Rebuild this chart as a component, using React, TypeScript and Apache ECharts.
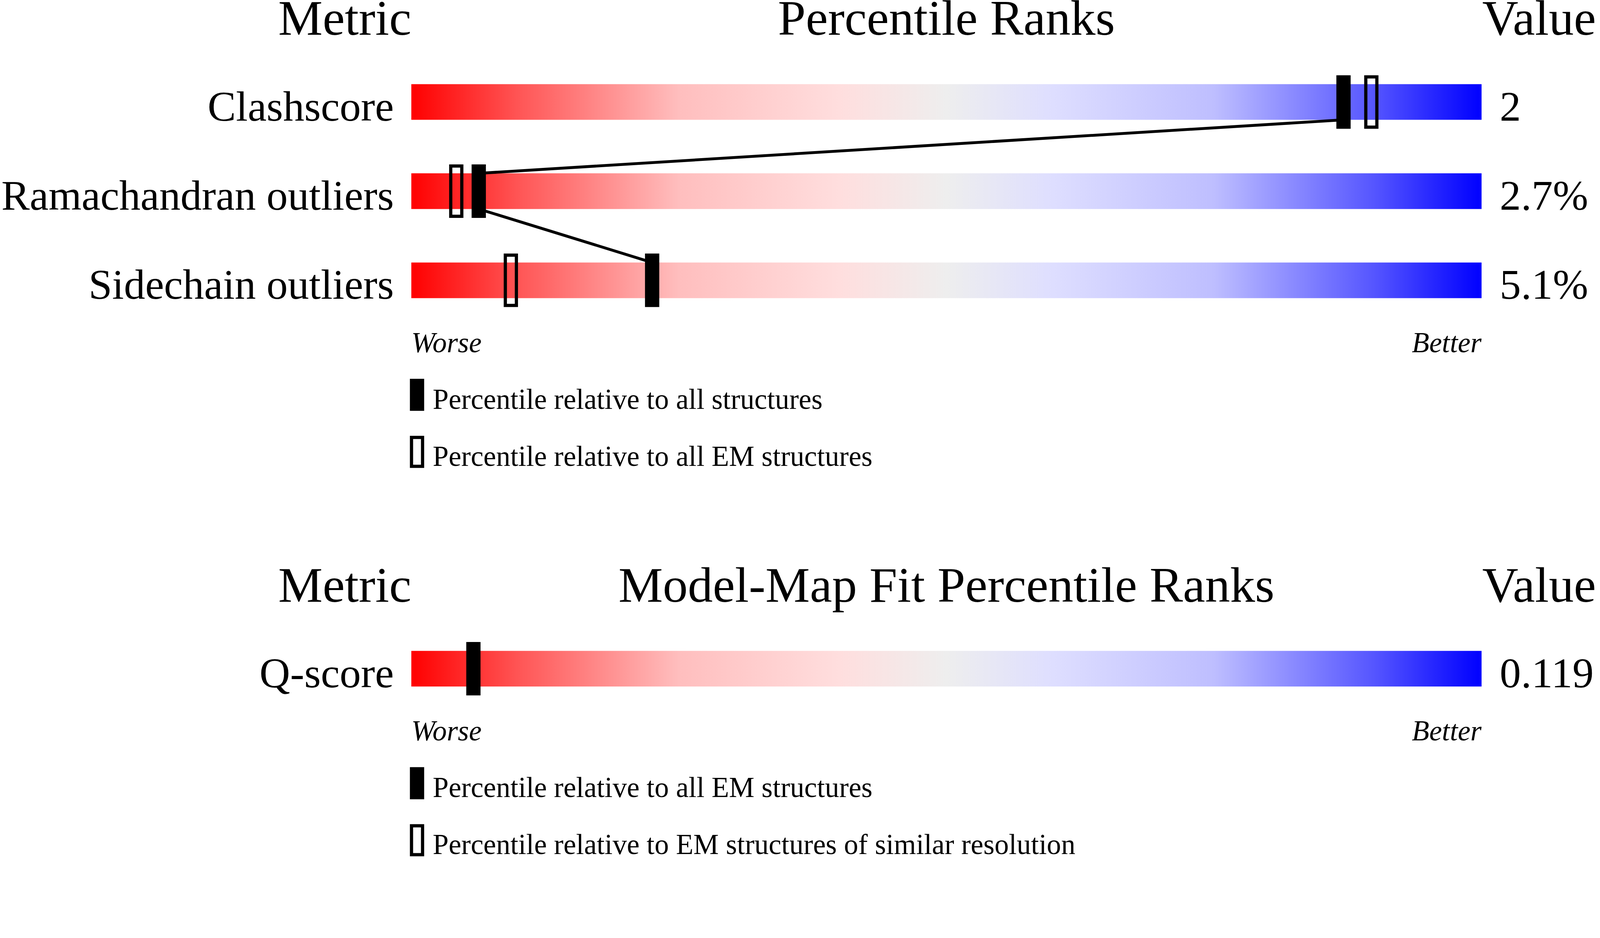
import { useEffect, useRef, useState } from 'react'
import * as echarts from 'echarts'

// 数据
const metrics = ['Clashscore', 'Ramachandran outliers', 'Sidechain outliers']
const metricValues = ['2', '2.7%', '5.1%']
const pctAll = [87.1, 6.3, 22.5] // percentile relative to all structures (filled)
const pctEM = [89.7, 4.2, 9.3] // percentile relative to all EM structures (outline)

const fitMetrics = ['Q-score']
const fitValues = ['0.119']
const fitPctEM = [5.8] // percentile relative to all EM structures (filled)

const headers1 = ['Metric', 'Percentile Ranks', 'Value']
const headers2 = ['Metric', 'Model-Map Fit Percentile Ranks', 'Value']
const scaleEnds = ['Worse', 'Better']
const legend1 = ['Percentile relative to all structures', 'Percentile relative to all EM structures']
const legend2 = ['Percentile relative to all EM structures', 'Percentile relative to EM structures of similar resolution']

// 布局 / 样式 (参考图像素)
const W = 4485
const H = 2402
const PLOT_L = 1153
const PLOT_W = 3000
const BAND = 250
const BAR_H = 100
const MARK_W = 40
const MARK_H = 150
const OUT_LW = 9
const LINK_LW = 8
const LABEL_SIZE = 119
const FONT = "'Liberation Serif', 'Times New Roman', serif"
const CENTRAL = 0.32 // 文字中心到基线的距离 (em)

const gradientStops: [number, string][] = [
  [0, '#ff0000'],
  [0.1, '#ff5555'],
  [0.25, '#ffbebe'],
  [0.4, '#ffdede'],
  [0.5, '#eeeeee'],
  [0.6, '#dedeff'],
  [0.75, '#bebeff'],
  [0.9, '#5555ff'],
  [1, '#0000ff'],
]

function buildOption(s: number) {
  const k = (v: number) => v * s

  const txt = (text: string, x: number, baseline: number, size: number, align: string, italic = false) => ({
    type: 'text',
    x: k(x),
    y: k(baseline - size * CENTRAL),
    silent: true,
    style: {
      text,
      fill: '#000',
      fontSize: k(size),
      fontFamily: FONT,
      fontStyle: italic ? 'italic' : 'normal',
      align,
      textAlign: align,
      verticalAlign: 'middle',
      textVerticalAlign: 'middle',
    },
  })

  const legendBlock = (labels: string[], worseBase: number) => {
    const top1 = worseBase + 76
    const top2 = worseBase + 236
    return [
      { type: 'rect', silent: true, shape: { x: k(PLOT_L - 4), y: k(top1), width: k(MARK_W), height: k(90) }, style: { fill: '#000' } },
      {
        type: 'rect',
        silent: true,
        shape: { x: k(PLOT_L - 4 + OUT_LW / 2), y: k(top2 + OUT_LW / 2), width: k(MARK_W - OUT_LW), height: k(90 - OUT_LW) },
        style: { fill: 'none', stroke: '#000', lineWidth: k(OUT_LW) },
      },
      txt(labels[0], PLOT_L + 60, worseBase + 159, 80, 'left'),
      txt(labels[1], PLOT_L + 60, worseBase + 319, 80, 'left'),
    ]
  }

  const panelTexts = (headers: string[], headBase: number, worseBase: number, legend: string[]) => [
    txt(headers[0], PLOT_L, headBase, 140, 'right'),
    txt(headers[1], PLOT_L + PLOT_W / 2, headBase, 140, 'center'),
    txt(headers[2], PLOT_L + PLOT_W + 2, headBase, 140, 'left'),
    txt(scaleEnds[0], PLOT_L, worseBase, 80, 'left', true),
    txt(scaleEnds[1], PLOT_L + PLOT_W, worseBase, 80, 'right', true),
    ...legendBlock(legend, worseBase),
  ]

  // 标签基线对齐到条形底边：verticalAlign 'top' 时文字中心 = y + lineHeight / 2
  const labelShift = BAR_H / 2 - LABEL_SIZE * CENTRAL

  const catAxis = (data: string[], gridIndex: number, position: 'left' | 'right', margin: number) => ({
    type: 'category',
    gridIndex,
    data,
    inverse: true,
    position,
    axisLine: { show: false },
    axisTick: { show: false },
    splitLine: { show: false },
    axisLabel: {
      interval: 0,
      margin: k(margin),
      color: '#000',
      fontSize: k(LABEL_SIZE),
      fontFamily: FONT,
      align: position === 'left' ? 'right' : 'left',
      verticalAlign: 'top',
      lineHeight: k(labelShift * 2),
    },
  })

  const gradient = new echarts.graphic.LinearGradient(
    0, 0, 1, 0,
    gradientStops.map(([offset, color]) => ({ offset, color })),
  )

  const links = pctAll.slice(0, -1).map((v, i) => [v, i, pctAll[i + 1], i + 1])

  // 百分位标记：实心 / 空心矩形
  const marker = (xi: number, yi: number, data: number[], outline: boolean) => ({
    type: 'custom',
    xAxisIndex: xi,
    yAxisIndex: yi,
    data: data.map((v, i) => [v, i]),
    encode: { x: 0, y: 1 },
    silent: true,
    z: 3,
    renderItem: (_params: any, api: any) => {
      const c = api.coord([api.value(0), api.value(1)])
      const inset = outline ? k(OUT_LW / 2) : 0
      return {
        type: 'rect',
        shape: {
          x: c[0] - k(MARK_W / 2) + inset,
          y: c[1] - k(MARK_H / 2) + inset,
          width: k(MARK_W) - inset * 2,
          height: k(MARK_H) - inset * 2,
        },
        style: outline ? { fill: 'none', stroke: '#000', lineWidth: k(OUT_LW) } : { fill: '#000' },
      }
    },
  })

  const track = (xi: number, yi: number, cats: string[]) => ({
    type: 'bar',
    xAxisIndex: xi,
    yAxisIndex: yi,
    data: cats.map(() => 100),
    barWidth: k(BAR_H),
    silent: true,
    itemStyle: { color: gradient },
    z: 1,
  })

  return {
    animation: false,
    backgroundColor: '#ffffff',
    grid: [
      { left: k(PLOT_L), width: k(PLOT_W), top: k(286 - BAND / 2), height: k(BAND * metrics.length) },
      { left: k(PLOT_L), width: k(PLOT_W), top: k(1875 - BAND / 2), height: k(BAND * fitMetrics.length) },
    ],
    xAxis: [
      { type: 'value', gridIndex: 0, min: 0, max: 100, show: false },
      { type: 'value', gridIndex: 1, min: 0, max: 100, show: false },
    ],
    yAxis: [
      catAxis(metrics, 0, 'left', 49),
      catAxis(metricValues, 0, 'right', 51),
      catAxis(fitMetrics, 1, 'left', 49),
      catAxis(fitValues, 1, 'right', 51),
    ],
    series: [
      track(0, 0, metrics),
      {
        type: 'custom',
        xAxisIndex: 0,
        yAxisIndex: 0,
        data: links,
        encode: { x: [0, 2], y: [1, 3] },
        silent: true,
        z: 2,
        renderItem: (_params: any, api: any) => {
          const a = api.coord([api.value(0), api.value(1)])
          const b = api.coord([api.value(2), api.value(3)])
          return {
            type: 'line',
            shape: { x1: a[0], y1: a[1] + k(BAR_H / 2), x2: b[0], y2: b[1] - k(BAR_H / 2) },
            style: { stroke: '#000', lineWidth: k(LINK_LW) },
          }
        },
      },
      marker(0, 0, pctEM, true),
      marker(0, 0, pctAll, false),
      track(1, 2, fitMetrics),
      marker(1, 2, fitPctEM, false),
    ],
    graphic: [
      ...panelTexts(headers1, 95, 986, legend1),
      ...panelTexts(headers2, 1685, 2075, legend2),
    ],
  }
}

export default function App() {
  const ref = useRef<HTMLDivElement>(null)
  const [scale, setScale] = useState(0)

  useEffect(() => {
    document.body.style.margin = '0'
    document.body.style.overflow = 'hidden'
    const vw = document.documentElement.clientWidth || window.innerWidth || W
    const vh = window.innerHeight || H
    setScale(Math.min(1, vw / W, vh / H))
  }, [])

  useEffect(() => {
    if (!ref.current || !scale) return
    const chart = echarts.init(ref.current, null, {
      renderer: 'svg',
      width: Math.floor(W * scale),
      height: Math.floor(H * scale),
    })
    chart.setOption(buildOption(scale) as any)
    return () => chart.dispose()
  }, [scale])

  return (
    <div
      ref={ref}
      style={{ width: scale ? Math.floor(W * scale) : W, height: scale ? Math.floor(H * scale) : H, background: '#fff' }}
    />
  )
}
